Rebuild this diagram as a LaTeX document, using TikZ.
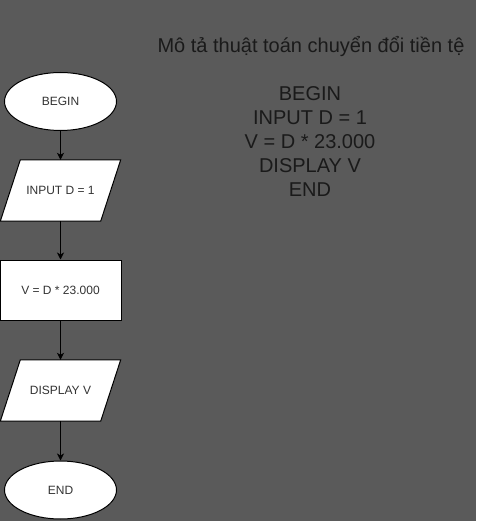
\documentclass[tikz,border=0pt]{standalone}
\usepackage{fontspec}
\setmainfont{Liberation Sans}
\usetikzlibrary{shapes.geometric,arrows.meta}
\definecolor{bg}{HTML}{5A5A5A}
\definecolor{txt}{HTML}{1A1A1A}
\definecolor{boxtxt}{HTML}{333333}
\pgfdeclarelayer{back}
\pgfsetlayers{back,main}
\tikzset{
  shp/.style={draw=black, line width=1pt, fill=white, inner sep=0pt, text=boxtxt,
    font=\fontsize{12}{14}\selectfont},
  term/.style={shp, ellipse, minimum width=112pt, minimum height=58pt},
  io/.style={inner sep=0pt, text=boxtxt, font=\fontsize{12}{14}\selectfont,
    rectangle, minimum width=120pt, minimum height=61pt},
  para/.style={draw=black, line width=1pt, fill=white, line join=miter},
  proc/.style={shp, rectangle, minimum width=121pt, minimum height=60pt},
  flow/.style={draw=black, line width=1pt, -{Stealth[length=7pt,width=7pt,inset=2pt]}},
  big/.style={text=txt, font=\fontsize{20}{24}\selectfont, align=center, inner sep=0pt}
}
\begin{document}
\begin{tikzpicture}[x=1pt,y=-1pt]
\begin{pgfonlayer}{back}
\fill[bg] (0,0) rectangle (476,521);
\end{pgfonlayer}
\useasboundingbox (0,0) rectangle (476,521);
\node[term] (begin) at (60.5,101.5) {BEGIN};
\node[io] (input) at (60.5,190.5) {INPUT D = 1};
\node[proc] (calc) at (60.5,290) {V = D * 23.000};
\node[io] (disp) at (60.5,390.5) {DISPLAY V};
\node[term] (end) at (60.5,490) {END};
\begin{pgfonlayer}{back}
\foreach \n in {input,disp}{
  \draw[para] ([xshift=20pt]\n.north west) -- (\n.north east)
    -- ([xshift=-20pt]\n.south east) -- (\n.south west) -- cycle;
}
\end{pgfonlayer}
\draw[flow] (begin) -- (input);
\draw[flow] (input) -- (calc);
\draw[flow] (calc) -- (disp);
\draw[flow] (disp) -- (end);
\node[big] (title) at (311,47) {Mô tả thuật toán chuyển đổi tiền tệ};
\node[big] (algo) at (310,141.5) {BEGIN\\INPUT D = 1\\V = D * 23.000\\DISPLAY V\\END};
\end{tikzpicture}
\end{document}
